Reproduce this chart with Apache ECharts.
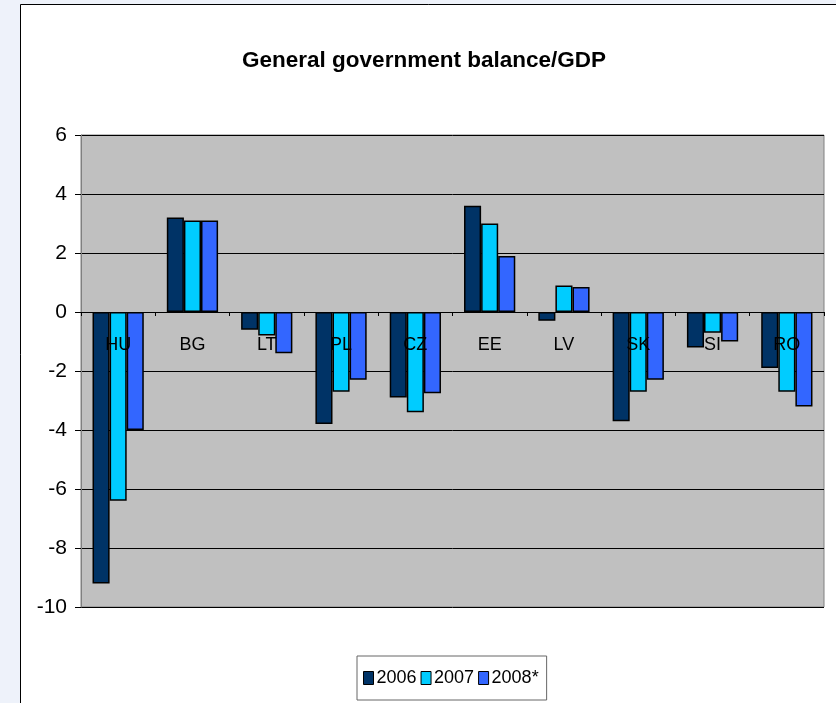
<!DOCTYPE html>
<html>
<head>
<meta charset="utf-8">
<script src="https://cdn.jsdelivr.net/npm/echarts@6/dist/echarts.min.js"></script>
<style>
  html, body { margin: 0; padding: 0; background: #eef2fa; }
  #chart { width: 836px; height: 703px; }
</style>
</head>
<body>
<div id="chart"></div>
<script>
const countries = ['HU', 'BG', 'LT', 'PL', 'CZ', 'EE', 'LV', 'SK', 'SI', 'RO']
const years = ['2006', '2007', '2008*']
const values2006 = [-9.2, 3.2, -0.6, -3.8, -2.9, 3.6, -0.3, -3.7, -1.2, -1.9]
const values2007 = [-6.4, 3.1, -0.8, -2.7, -3.4, 3.0, 0.9, -2.7, -0.7, -2.7]
const values2008 = [-4.0, 3.1, -1.4, -2.3, -2.75, 1.9, 0.85, -2.3, -1.0, -3.2]
const colors = ['#003366', '#00ccff', '#3366ff']

const yMin = -10
const yMax = 6

const chart = echarts.init(document.getElementById('chart'))

const seriesData = [values2006, values2007, values2008]

// grid geometry (px)
const gridTop = 135
const gridBottom = 96
const plotHeight = 703 - gridTop - gridBottom
// move the category axis up to the zero line
const zeroOffset = -plotHeight * (0 - yMin) / (yMax - yMin)

chart.setOption({
  animation: false,
  backgroundColor: 'transparent',
  textStyle: { fontFamily: 'Liberation Sans, Arial, sans-serif' },
  graphic: [
    {
      type: 'rect',
      z: -10,
      shape: { x: 20.5, y: 4.5, width: 830, height: 720 },
      style: { fill: '#ffffff', stroke: '#000000', lineWidth: 1 },
    },
  ],
  title: {
    text: 'General government balance/GDP',
    left: 419,
    top: 44,
    textAlign: 'center',
    textStyle: { fontSize: 22.5, fontWeight: 'bold', color: '#000' },
  },
  legend: {
    data: years,
    bottom: 3,
    left: 357,
    itemWidth: 10,
    itemHeight: 13,
    itemGap: 4,
    padding: [13, 8, 13, 6],
    borderColor: '#666',
    borderWidth: 1,
    icon: 'rect',
    itemStyle: { borderColor: '#000', borderWidth: 1 },
    textStyle: { fontSize: 18, color: '#000', padding: [0, 0, 0, -2] },
  },
  grid: {
    left: 81,
    right: 12,
    top: gridTop,
    bottom: gridBottom,
    show: true,
    backgroundColor: '#c0c0c0',
    borderColor: '#808080',
    borderWidth: 1,
  },
  xAxis: {
    type: 'category',
    data: countries,
    offset: zeroOffset,
    z: 10,
    axisLine: { onZero: false, lineStyle: { color: '#000' } },
    axisTick: { show: true, inside: false, length: 4, lineStyle: { color: '#000' } },
    axisLabel: { margin: 24, fontSize: 18, color: '#000' },
  },
  yAxis: {
    type: 'value',
    min: yMin,
    max: yMax,
    interval: 2,
    axisLine: { show: true, onZero: false, lineStyle: { color: '#808080' } },
    axisTick: { show: true, length: 6, lineStyle: { color: '#000' } },
    axisLabel: { margin: 14, fontSize: 21, color: '#000' },
    splitLine: { lineStyle: { color: '#000', width: 1 } },
  },
  series: years.map((name, i) => ({
    name: name,
    type: 'bar',
    data: seriesData[i],
    barGap: '0%',
    barCategoryGap: '31%',
    itemStyle: { color: colors[i], borderColor: '#000', borderWidth: 1.5 },
  })),
})
</script>
</body>
</html>
